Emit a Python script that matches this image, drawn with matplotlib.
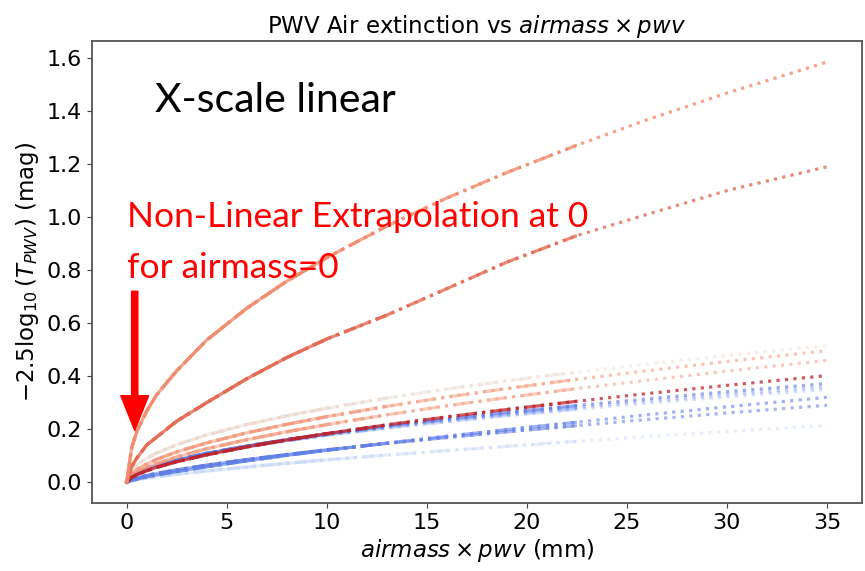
import matplotlib
matplotlib.use("Agg")
import matplotlib.pyplot as plt
import numpy as np

# airmass x pwv grid (mm)
x = [0, 0.25, 0.5, 1, 1.5, 2.5, 4, 6, 8, 10, 13, 16, 19, 22.5, 26, 30, 35]

# -2.5 log10(T_pwv), one list per wavelength
y_a = [0, 0.13, 0.19, 0.268, 0.33, 0.42, 0.536, 0.656, 0.758, 0.847, 0.966, 1.072, 1.168, 1.271, 1.367, 1.468, 1.585]
y_b = [0, 0.06, 0.09, 0.14, 0.17, 0.23, 0.30, 0.39, 0.47, 0.54, 0.63, 0.73, 0.83, 0.93, 1.01, 1.10, 1.19]
y_c1 = [0, 0.044, 0.064, 0.090, 0.110, 0.141, 0.178, 0.217, 0.250, 0.279, 0.317, 0.351, 0.382, 0.415, 0.445, 0.478, 0.515]
y_c2 = [0, 0.032, 0.047, 0.068, 0.086, 0.114, 0.148, 0.186, 0.218, 0.247, 0.286, 0.321, 0.353, 0.388, 0.420, 0.455, 0.496]
y_c3 = [0, 0.024, 0.036, 0.055, 0.070, 0.095, 0.126, 0.160, 0.190, 0.217, 0.254, 0.288, 0.319, 0.353, 0.384, 0.419, 0.459]
y_c4 = [0, 0.018, 0.028, 0.043, 0.056, 0.077, 0.103, 0.133, 0.159, 0.183, 0.216, 0.246, 0.274, 0.305, 0.334, 0.365, 0.402]
y_c5 = [0, 0.022, 0.033, 0.049, 0.062, 0.083, 0.108, 0.136, 0.160, 0.182, 0.212, 0.238, 0.263, 0.289, 0.314, 0.341, 0.372]
y_c6 = [0, 0.024, 0.035, 0.051, 0.064, 0.084, 0.109, 0.136, 0.160, 0.181, 0.209, 0.234, 0.257, 0.282, 0.306, 0.331, 0.360]
y_c7 = [0, 0.023, 0.034, 0.050, 0.062, 0.082, 0.106, 0.133, 0.156, 0.177, 0.204, 0.228, 0.251, 0.275, 0.298, 0.322, 0.350]
y_c8 = [0, 0.007, 0.011, 0.020, 0.027, 0.040, 0.058, 0.080, 0.101, 0.120, 0.147, 0.173, 0.198, 0.226, 0.254, 0.284, 0.320]
y_c9 = [0, 0.009, 0.015, 0.025, 0.033, 0.046, 0.064, 0.085, 0.104, 0.122, 0.146, 0.168, 0.190, 0.213, 0.236, 0.261, 0.290]
y_c10 = [0, 0.005, 0.009, 0.015, 0.020, 0.030, 0.042, 0.057, 0.071, 0.084, 0.102, 0.119, 0.135, 0.154, 0.171, 0.191, 0.214]

curves = [y_c10, y_c1, y_c7, y_c6, y_c5, y_c9, y_c8, y_c3, y_c2, y_c4, y_b, y_a]
cmap_pos = [0.4, 0.55, 0.2, 0.15, 0.1, 0.08, 0.12, 0.75, 0.75, 0.97, 0.85, 0.78]
alphas = [0.4, 0.4, 0.35, 0.4, 0.6, 0.5, 0.6, 0.5, 0.55, 0.75, 0.8, 0.8]

# segment ends and their line styles
seg_ends = [10, 15, 22.5, 35]
seg_styles = ['-', '--', '-.', ':']

cmap = plt.get_cmap('coolwarm')
xa = np.array(x)

fig = plt.figure(figsize=(8.65, 5.71), dpi=100)
ax = fig.add_axes([0.106, 0.119, 0.8905, 0.809])

for ys, c, a in zip(curves, cmap_pos, alphas):
    ya = np.array(ys)
    for end, ls in zip(seg_ends, seg_styles):
        m = xa <= end
        ax.plot(xa[m], ya[m], ls=ls, color=cmap(c), alpha=a, lw=2.3)

ax.set_xlim(-1.75, 36.75)
ax.set_ylim(-0.079, 1.664)
ax.set_xticks([0, 5, 10, 15, 20, 25, 30, 35])
ax.set_yticks([0.0, 0.2, 0.4, 0.6, 0.8, 1.0, 1.2, 1.4, 1.6])
ax.tick_params(labelsize=16, color='#444')
for s in ax.spines.values():
    s.set_color('#555')
    s.set_linewidth(1.3)

ax.set_title(r"PWV Air extinction vs $airmass \times pwv$", fontsize=16.5, pad=6)
ax.set_xlabel(r"$airmass \times pwv$ (mm)", fontsize=16.5, labelpad=3)
ax.set_ylabel(r"$-2.5\log_{10}(T_{PWV})$ (mag)", fontsize=16.5, labelpad=4)

# annotations drawn on top of the chart
fig.text(155/865, 1 - 100/571, "X-scale linear", fontsize=29.5, family='Lato', va='center', ha='left')
fig.text(127/865, 1 - 217/571, "Non-Linear Extrapolation at 0", fontsize=25.5, family='Lato',
         color='red', va='center', ha='left')
fig.text(127/865, 1 - 268/571, "for airmass=0", fontsize=25.5, family='Lato',
         color='red', va='center', ha='left')
ax.annotate('', xy=(0.4, 0.195), xytext=(0.4, 0.72),
            arrowprops=dict(facecolor='red', edgecolor='red', width=4.5, headwidth=20, headlength=25))

fig.savefig('out.png', dpi=100)
